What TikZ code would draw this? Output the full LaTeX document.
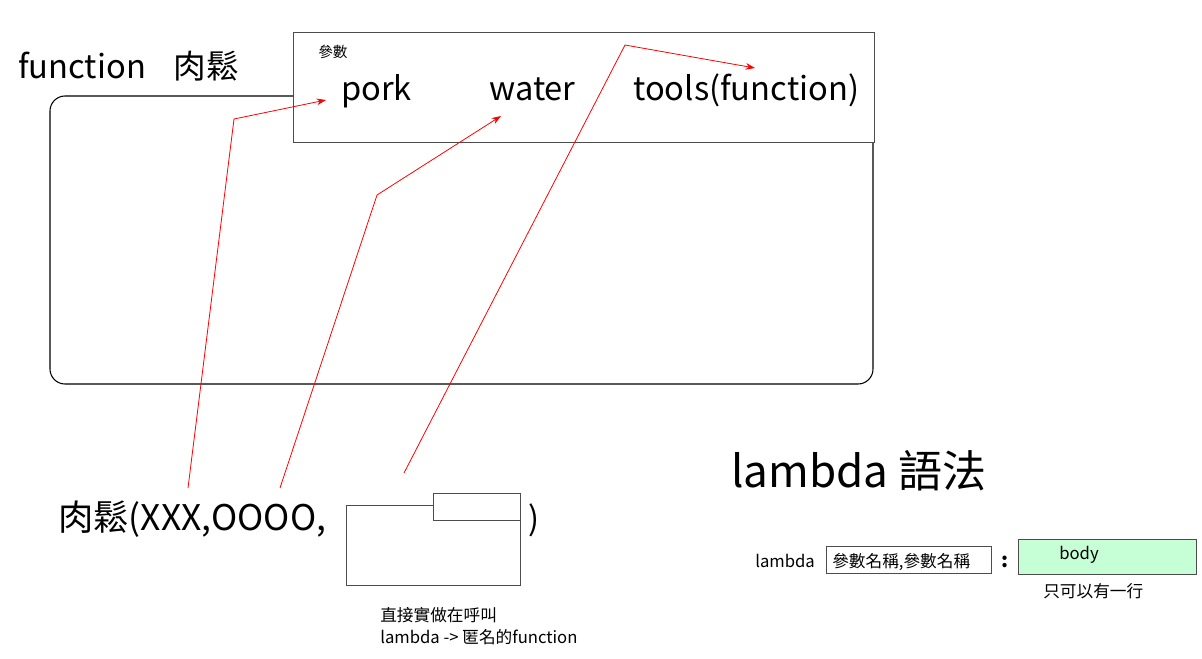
\documentclass[tikz,border=0pt]{standalone}
\usepackage{fontspec}
\setmainfont{Noto Sans CJK TC}
\usetikzlibrary{arrows.meta}
\tikzset{
  big/.style={font=\fontsize{24.5}{28}\selectfont, inner sep=0pt},
  small/.style={font=\fontsize{12.5}{15}\selectfont, inner sep=0pt},
  redarrow/.style={draw=red, line width=0.6pt, -{Stealth[length=7pt,width=5pt]}},
  grayframe/.style={draw=black!70, line width=0.8pt},
}
\begin{document}
\begin{tikzpicture}[x=0.75pt,y=-0.75pt]
\useasboundingbox (0,0) rectangle (1202,658);
% main rounded frame
\draw[line width=0.8pt, rounded corners=11.25pt] (50,96) rectangle (873,384);
% parameter box
\node[grayframe, fill=white, minimum width=435.75pt, minimum height=82.5pt, inner sep=0pt, anchor=north west] (params) at (293,32) {};
\node[big, anchor=base west] (title) at (18,78) {function\hspace{0.85em}肉鬆};
\node[font=\fontsize{11}{13}\selectfont, inner sep=0pt, anchor=base west] (canshu) at (318,57) {參數};
\node[big, anchor=base west] (pork) at (341,100) {pork};
\node[big, anchor=base west] (water) at (489,100) {water};
\node[big, anchor=base west] (tools) at (633,100) {tools(function)};
% call
\node[font=\fontsize{26.5}{30}\selectfont, inner sep=0pt, anchor=base west] (call) at (58,530) {肉鬆(XXX,OOOO,};
\node[big, anchor=base west] (close) at (528,530) {)};
\node[grayframe, minimum width=130.5pt, minimum height=60pt, inner sep=0pt, anchor=north west] (lam) at (346,505) {};
\node[grayframe, fill=white, minimum width=65.25pt, minimum height=20.25pt, inner sep=0pt, anchor=north west] (lamsmall) at (433,493) {};
\node[small, anchor=base west, align=left] (note1) at (380,621) {直接實做在呼叫};
\node[small, anchor=base west] (note2) at (380,643) {lambda -> 匿名的function};
% red arrows
\coordinate (s1) at (188,488);
\coordinate (b1) at (234,119);
\coordinate (e1) at (326,100);
\coordinate (s2) at (280,488);
\coordinate (b2) at (377,195);
\coordinate (e2) at (501,116);
\coordinate (s3) at (404,473);
\coordinate (b3) at (625,45);
\coordinate (e3) at (755,68);
\draw[redarrow] (s1) -- (b1) -- (e1);
\draw[redarrow] (s2) -- (b2) -- (e2);
\draw[redarrow] (s3) -- (b3) -- (e3);
% lambda syntax
\node[font=\fontsize{33}{37}\selectfont, inner sep=0pt, anchor=base west] (syntax) at (731,487) {lambda 語法};
\node[small, anchor=base west] (lamkw) at (755,567) {lambda};
\node[grayframe, minimum width=123.75pt, minimum height=20.25pt, inner sep=0pt, anchor=north west] (argbox) at (826,546) {};
\node[small, anchor=base west] (argtext) at (832,567) {參數名稱,參數名稱};
\node[font=\fontsize{15}{17}\selectfont\bfseries, inner sep=0pt, anchor=base] (colon) at (1005,567) {:};
\definecolor{mint}{RGB}{198,255,214}
\node[grayframe, fill=mint, minimum width=133.5pt, minimum height=26.25pt, inner sep=0pt, anchor=north west] (body) at (1018,539) {};
\node[small, anchor=base west] (bodytext) at (1059,559) {body};
\node[small, anchor=base west] (oneline) at (1043,597) {只可以有一行};
\end{tikzpicture}
\end{document}
